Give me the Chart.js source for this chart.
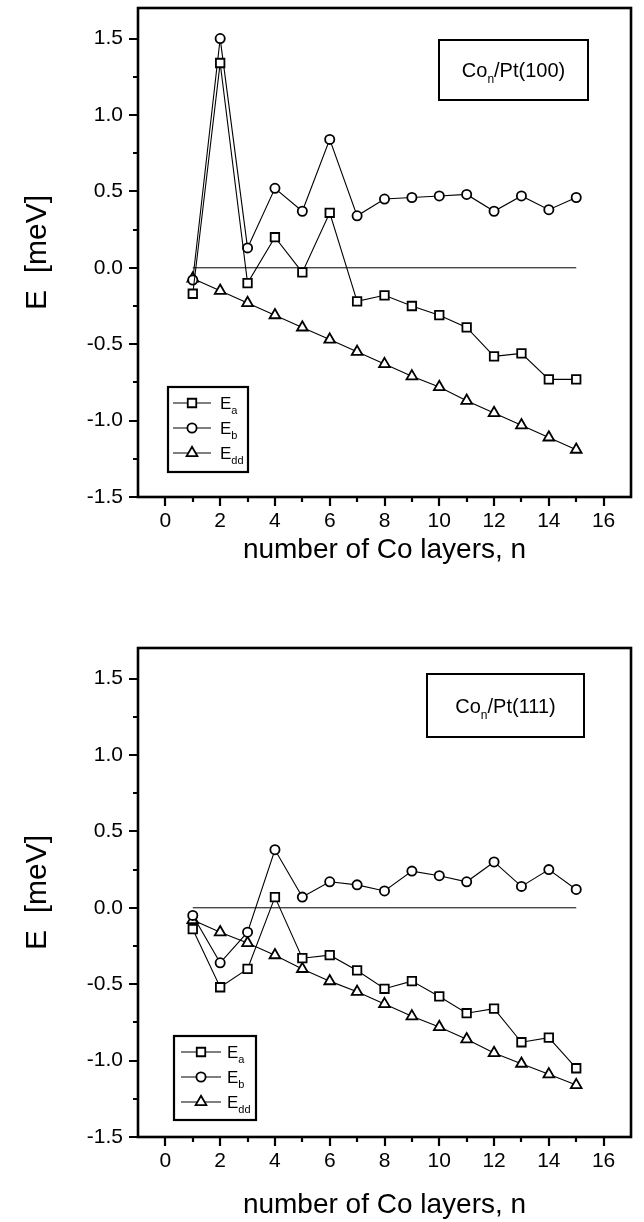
<!DOCTYPE html>
<html>
<head>
<meta charset="utf-8">
<script src="https://cdn.jsdelivr.net/npm/chart.js@4.4.0/dist/chart.umd.min.js"></script>
<style>
  html, body { margin: 0; padding: 0; background: #fff; overflow: hidden; }
  .wrap { position: absolute; left: 0; width: 644px; height: 640px; }
</style>
</head>
<body>
<div class="wrap" style="top:0px"><canvas id="c1" width="644" height="640"></canvas></div>
<div class="wrap" style="top:640px"><canvas id="c2" width="644" height="640"></canvas></div>
<script>
// ---------- data ----------
const layers = [1, 2, 3, 4, 5, 6, 7, 8, 9, 10, 11, 12, 13, 14, 15];

const Ea100  = [-0.17, 1.34, -0.10, 0.20, -0.03, 0.36, -0.22, -0.18, -0.25, -0.31, -0.39, -0.58, -0.56, -0.73, -0.73];
const Eb100  = [-0.08, 1.50, 0.13, 0.52, 0.37, 0.84, 0.34, 0.45, 0.46, 0.47, 0.48, 0.37, 0.47, 0.38, 0.46];
const Edd100 = [-0.07, -0.15, -0.23, -0.31, -0.39, -0.47, -0.55, -0.63, -0.71, -0.78, -0.87, -0.95, -1.03, -1.11, -1.19];

const Ea111  = [-0.14, -0.52, -0.40, 0.07, -0.33, -0.31, -0.41, -0.53, -0.48, -0.58, -0.69, -0.66, -0.88, -0.85, -1.05];
const Eb111  = [-0.05, -0.36, -0.16, 0.38, 0.07, 0.17, 0.15, 0.11, 0.24, 0.21, 0.17, 0.30, 0.14, 0.25, 0.12];
const Edd111 = [-0.08, -0.16, -0.23, -0.31, -0.40, -0.48, -0.55, -0.63, -0.71, -0.78, -0.86, -0.95, -1.02, -1.09, -1.16];

const zeroLineX = [1, 15];
const zeroLineY = [0, 0];

const xMajorTicks = [0, 2, 4, 6, 8, 10, 12, 14, 16];
const xMinorTicks = [1, 3, 5, 7, 9, 11, 13, 15];
const yMajorTicks = [-1.5, -1.0, -0.5, 0.0, 0.5, 1.0, 1.5];
const yMinorTicks = [-1.25, -0.75, -0.25, 0.25, 0.75, 1.25];

const seriesLabels = ['E_a', 'E_b', 'E_dd'];
const xTitle = 'number of Co layers, n';
const yTitle = 'E  [meV]';

// ---------- helpers ----------
const FONT = '"Liberation Sans", Arial, Helvetica, sans-serif';

function pts(ys) { return layers.map((x, i) => ({ x: x, y: ys[i] })); }

function series(label, ys, style, radius) {
  return {
    label: label,
    data: pts(ys),
    showLine: true,
    borderColor: '#000',
    borderWidth: 1.1,
    pointStyle: style,
    pointRadius: radius,
    pointHoverRadius: radius,
    pointBorderWidth: 1.8,
    pointBorderColor: '#000',
    pointBackgroundColor: '#fff',
    tension: 0,
    fill: false
  };
}

function drawSubText(ctx, parts, x, y, size) {
  let cx = x;
  parts.forEach(([t, sub]) => {
    const fs = sub ? Math.round(size * 0.62) : size;
    ctx.font = fs + 'px ' + FONT;
    ctx.fillText(t, cx, sub ? y + size * 0.3 : y);
    cx += ctx.measureText(t).width;
  });
  return cx - x;
}

function measureSub(ctx, parts, size) {
  let w = 0;
  parts.forEach(([t, sub]) => {
    const fs = sub ? Math.round(size * 0.62) : size;
    ctx.font = fs + 'px ' + FONT;
    w += ctx.measureText(t).width;
  });
  return w;
}

const framePlugin = {
  id: 'frameTicks',
  afterDraw(chart) {
    const { ctx, chartArea: a, scales: { x, y } } = chart;
    ctx.save();
    ctx.strokeStyle = '#000';
    ctx.lineWidth = 2.6;
    ctx.strokeRect(a.left, a.top, a.right - a.left, a.bottom - a.top);
    ctx.lineWidth = 2.2;
    ctx.beginPath();
    xMajorTicks.forEach(v => { const p = Math.round(x.getPixelForValue(v)); ctx.moveTo(p, a.bottom); ctx.lineTo(p, a.bottom + 9); });
    xMinorTicks.forEach(v => { const p = Math.round(x.getPixelForValue(v)); ctx.moveTo(p, a.bottom); ctx.lineTo(p, a.bottom + 5); });
    yMajorTicks.forEach(v => { const p = Math.round(y.getPixelForValue(v)); ctx.moveTo(a.left, p); ctx.lineTo(a.left - 9, p); });
    yMinorTicks.forEach(v => { const p = Math.round(y.getPixelForValue(v)); ctx.moveTo(a.left, p); ctx.lineTo(a.left - 5, p); });
    ctx.stroke();
    ctx.restore();
  }
};

const boxesPlugin = {
  id: 'boxes',
  afterDatasetsDraw(chart, args, opts) {
    const { ctx, chartArea: a } = chart;
    ctx.save();
    ctx.fillStyle = '#000';
    ctx.strokeStyle = '#000';
    const an = opts.annot;
    ctx.lineWidth = 2;
    ctx.fillStyle = '#fff';
    ctx.fillRect(a.left + an.x, a.top + an.y, an.w, an.h);
    ctx.strokeRect(a.left + an.x, a.top + an.y, an.w, an.h);
    ctx.fillStyle = '#000';
    ctx.textBaseline = 'alphabetic';
    ctx.textAlign = 'left';
    const tw = measureSub(ctx, an.parts, an.size);
    drawSubText(ctx, an.parts, a.left + an.x + (an.w - tw) / 2, a.top + an.y + an.h / 2 + an.size * 0.36, an.size);

    const lg = opts.legend;
    const bx = a.left + lg.x, by = a.top + lg.y;
    ctx.lineWidth = 2.2;
    ctx.fillStyle = '#fff';
    ctx.fillRect(bx, by, lg.w, lg.h);
    ctx.strokeRect(bx, by, lg.w, lg.h);
    ctx.fillStyle = '#000';
    chart.data.datasets.forEach((ds, i) => {
      if (!ds.pointRadius) return;
      const ry = by + lg.row0 + i * lg.rowGap;
      ctx.lineWidth = 1.1;
      ctx.beginPath();
      ctx.moveTo(bx + lg.lineX0, ry);
      ctx.lineTo(bx + lg.lineX1, ry);
      ctx.stroke();
      ctx.lineWidth = 1.8;
      ctx.fillStyle = '#fff';
      Chart.helpers.drawPoint(ctx, { pointStyle: ds.pointStyle, radius: ds.pointRadius, borderWidth: 1.8, rotation: 0 }, bx + (lg.lineX0 + lg.lineX1) / 2, ry);
      ctx.fillStyle = '#000';
      const [main, sub] = ds.label.split('_');
      drawSubText(ctx, [[main, false], [sub, true]], bx + lg.textX, ry + lg.size * 0.36, lg.size);
    });
    ctx.restore();
  }
};

function makeChart(id, ea, eb, edd, annotParts, annotBox, legendBox, xTitlePad) {
  return new Chart(document.getElementById(id), {
    type: 'scatter',
    data: {
      datasets: [
        series(seriesLabels[0], ea, 'rect', 6),
        series(seriesLabels[1], eb, 'circle', 4.6),
        series(seriesLabels[2], edd, 'triangle', 6.2),
        {
          label: 'zero',
          data: zeroLineX.map((x, i) => ({ x: x, y: zeroLineY[i] })),
          showLine: true,
          borderColor: '#000',
          borderWidth: 1,
          pointRadius: 0,
          pointHoverRadius: 0,
          order: 10
        }
      ]
    },
    options: {
      responsive: false,
      animation: false,
      events: [],
      layout: { padding: { top: 4, right: 13, left: 0, bottom: 0 } },
      plugins: {
        legend: { display: false },
        tooltip: { enabled: false },
        boxes: {
          annot: Object.assign({ parts: annotParts, size: 20 }, annotBox),
          legend: legendBox
        }
      },
      scales: {
        x: {
          type: 'linear',
          min: -1,
          max: 17,
          afterBuildTicks: s => { s.ticks = xMajorTicks.map(v => ({ value: v })); },
          afterFit: s => { s.height = 143; s.paddingLeft = 0; s.paddingRight = 0; },
          grid: { display: false, drawTicks: false },
          border: { display: false },
          ticks: {
            padding: 12,
            color: '#000',
            font: { family: FONT, size: 21 },
            maxRotation: 0,
            autoSkip: false,
            callback: v => String(v)
          },
          title: {
            display: true,
            text: xTitle,
            color: '#000',
            font: { family: FONT, size: 28, lineHeight: 1 },
            padding: { top: 0, bottom: xTitlePad }
          }
        },
        y: {
          type: 'linear',
          min: -1.5,
          max: 1.7,
          afterBuildTicks: s => { s.ticks = yMajorTicks.map(v => ({ value: v })); },
          afterFit: s => { s.width = 138; s.paddingTop = 0; s.paddingBottom = 0; },
          grid: { display: false, drawTicks: false },
          border: { display: false },
          ticks: {
            padding: 15,
            color: '#000',
            font: { family: FONT, size: 21 },
            autoSkip: false,
            callback: v => v.toFixed(1)
          },
          title: {
            display: true,
            text: yTitle,
            color: '#000',
            font: { family: FONT, size: 30, lineHeight: 1 },
            padding: { top: 23, bottom: 0 }
          }
        }
      }
    },
    plugins: [framePlugin, boxesPlugin]
  });
}

makeChart('c1', Ea100, Eb100, Edd100,
  [['Co', false], ['n', true], ['/Pt(100)', false]],
  { x: 301, y: 32, w: 149, h: 60 },
  { x: 30, y: 379, w: 80, h: 85, row0: 16, rowGap: 25, lineX0: 5, lineX1: 43, textX: 52, size: 17 },
  76);

makeChart('c2', Ea111, Eb111, Edd111,
  [['Co', false], ['n', true], ['/Pt(111)', false]],
  { x: 289, y: 26, w: 157, h: 63 },
  { x: 36, y: 388, w: 82, h: 84, row0: 16, rowGap: 25, lineX0: 7, lineX1: 47, textX: 53, size: 17 },
  61);
</script>
</body>
</html>
